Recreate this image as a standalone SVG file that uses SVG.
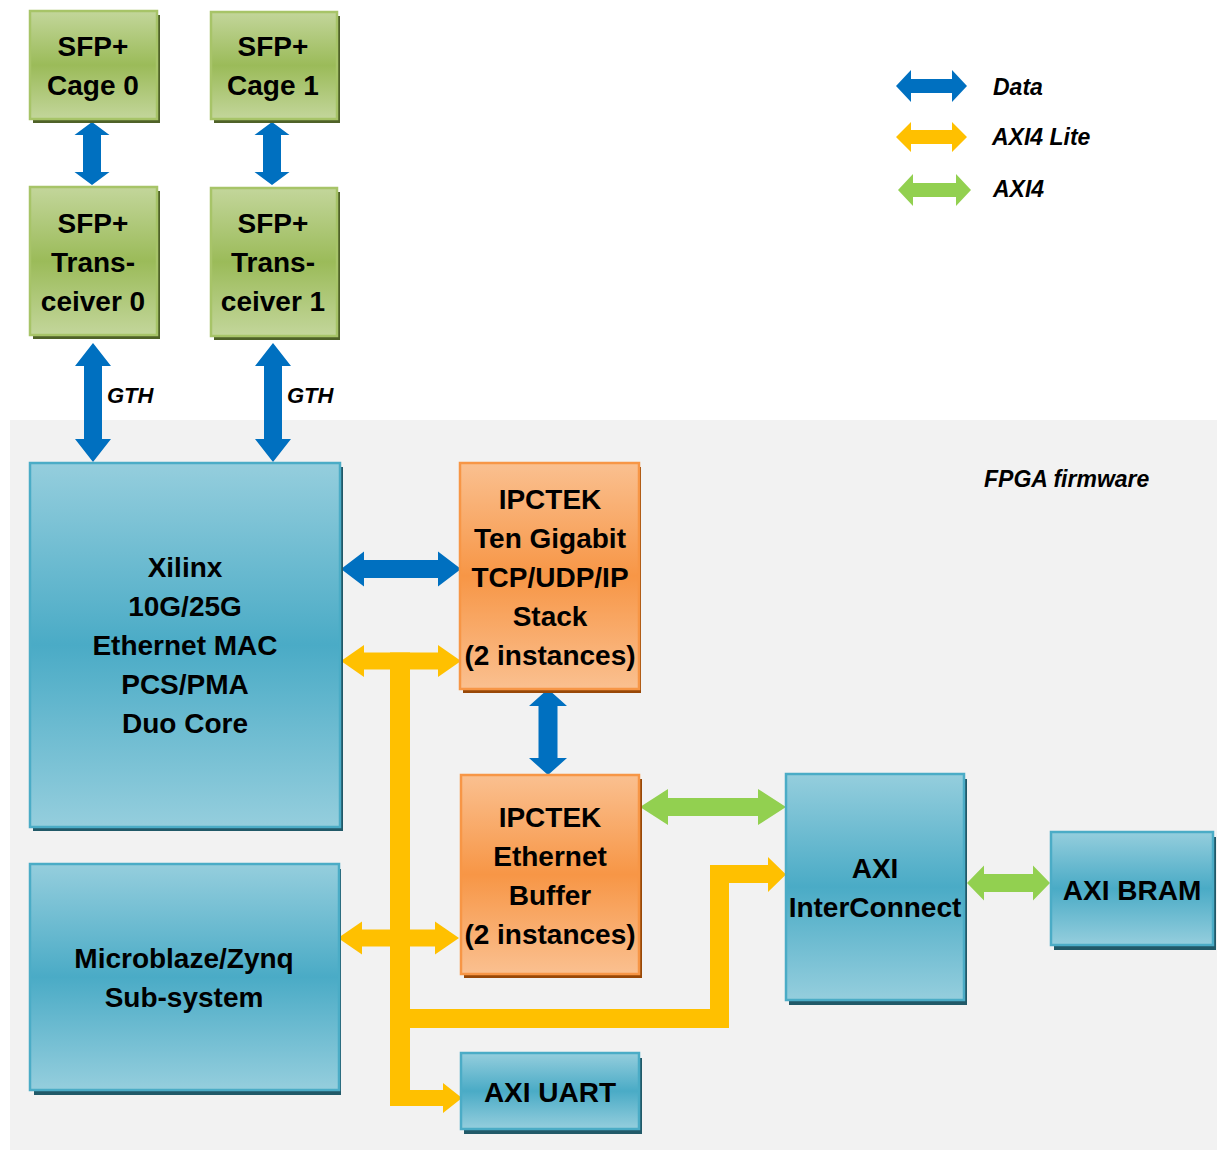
<svg xmlns="http://www.w3.org/2000/svg" width="1217" height="1151" viewBox="0 0 1217 1151">
<defs>
<linearGradient id="gBlue" x1="0" y1="0" x2="0" y2="1">
<stop offset="0" stop-color="#95cedd"/><stop offset="0.5" stop-color="#4aabc6"/><stop offset="1" stop-color="#95cedd"/>
</linearGradient>
<linearGradient id="gGreen" x1="0" y1="0" x2="0" y2="1">
<stop offset="0" stop-color="#c3d69b"/><stop offset="0.5" stop-color="#9bbb59"/><stop offset="1" stop-color="#c3d69b"/>
</linearGradient>
<linearGradient id="gOrange" x1="0" y1="0" x2="0" y2="1">
<stop offset="0" stop-color="#fac090"/><stop offset="0.5" stop-color="#f79646"/><stop offset="1" stop-color="#fac090"/>
</linearGradient>
</defs>
<style>
.blue rect.b{fill:url(#gBlue);stroke:#4bacc6;stroke-width:2.5}
.blue rect.s{fill:#215968}
.green rect.b{fill:url(#gGreen);stroke:#a7c468;stroke-width:2.5}
.green rect.s{fill:#4f6228}
.orange rect.b{fill:url(#gOrange);stroke:#f79646;stroke-width:2.5}
.orange rect.s{fill:#984807}
text{font-family:"Liberation Sans",Arial,sans-serif;font-weight:bold;fill:#000}
.t{font-size:28px;text-anchor:middle}
.i{font-size:22px;font-style:italic}
.l{font-size:23px;font-style:italic}
.data{fill:#0070c0}
.lite{fill:#ffc000}
.axi4{fill:#92d050}
</style>
<rect x="10" y="420" width="1207" height="730" fill="#f2f2f2"/>

<g id="connectors">
<path class="data" d="M92,122 L109.5,135 L101,135 L101,172 L109.5,172 L92,185 L74.5,172 L83,172 L83,135 L74.5,135 Z"/>
<path class="data" d="M272,122 L289.5,135 L281,135 L281,172 L289.5,172 L272,185 L254.5,172 L263,172 L263,135 L254.5,135 Z"/>
<path class="data" d="M93,343 L111,366 L102,366 L102,439 L111,439 L93,462 L75,439 L84,439 L84,366 L75,366 Z"/>
<path class="data" d="M273,343 L291,366 L282,366 L282,439 L291,439 L273,462 L255,439 L264,439 L264,366 L255,366 Z"/>
<path class="data" d="M341,569 L364,551.5 L364,560 L438,560 L438,551.5 L461,569 L438,586.5 L438,578 L364,578 L364,586.5 Z"/>
<path class="data" d="M548,689 L567,706 L557.5,706 L557.5,758 L567,758 L548,775 L529,758 L538.5,758 L538.5,706 L529,706 Z"/>
<path class="axi4" d="M640,807 L668,789 L668,798 L758,798 L758,789 L786,807 L758,825 L758,816 L668,816 L668,825 Z"/>
<path class="axi4" d="M967,883 L984,865.5 L984,874 L1033,874 L1033,865.5 L1050,883 L1033,900.5 L1033,892 L984,892 L984,900.5 Z"/>
<path class="lite" d="M341,661 L364,645 L364,652.5 L438,652.5 L438,645 L461,661 L438,677 L438,669.5 L364,669.5 L364,677 Z"/>
<rect class="lite" x="390" y="652.5" width="20" height="453.5"/>
<path class="lite" d="M338,938 L362,921.5 L362,929.5 L435,929.5 L435,921.5 L459,938 L435,954.5 L435,946.5 L362,946.5 L362,954.5 Z"/>
<path class="lite" d="M390,1090 L443,1090 L443,1083 L462,1098 L443,1113 L443,1106 L390,1106 Z"/>
<path class="lite" d="M400,1009 L710,1009 L710,865 L768,865 L768,857 L786,874.5 L768,892 L768,883 L729,883 L729,1028 L400,1028 Z"/>
</g>

<g id="cage0" class="green"><rect class="s" x="33" y="15" width="127" height="108"/><rect class="b" x="30" y="11" width="127" height="108"/>
<text class="t" x="93" y="56">SFP+</text><text class="t" x="93" y="95">Cage 0</text></g>
<g id="cage1" class="green"><rect class="s" x="214" y="16" width="126" height="107"/><rect class="b" x="211" y="12" width="126" height="107"/>
<text class="t" x="273" y="56">SFP+</text><text class="t" x="273" y="95">Cage 1</text></g>
<g id="trans0" class="green"><rect class="s" x="33" y="191" width="127" height="148"/><rect class="b" x="30" y="187" width="127" height="148"/>
<text class="t" x="93" y="233">SFP+</text><text class="t" x="93" y="272">Trans-</text><text class="t" x="93" y="311">ceiver 0</text></g>
<g id="trans1" class="green"><rect class="s" x="214" y="192" width="126" height="148"/><rect class="b" x="211" y="188" width="126" height="148"/>
<text class="t" x="273" y="233">SFP+</text><text class="t" x="273" y="272">Trans-</text><text class="t" x="273" y="311">ceiver 1</text></g>

<g id="mac" class="blue"><rect class="s" x="33" y="467" width="310" height="364"/><rect class="b" x="30" y="463" width="310" height="364"/>
<text class="t" x="185" y="577">Xilinx</text><text class="t" x="185" y="616">10G/25G</text><text class="t" x="185" y="655">Ethernet MAC</text><text class="t" x="185" y="694">PCS/PMA</text><text class="t" x="185" y="733">Duo Core</text></g>

<g id="stack" class="orange"><rect class="s" x="463" y="467" width="178" height="226"/><rect class="b" x="460" y="463" width="179" height="226"/>
<text class="t" x="550" y="509">IPCTEK</text><text class="t" x="550" y="548">Ten Gigabit</text><text class="t" x="550" y="587">TCP/UDP/IP</text><text class="t" x="550" y="626">Stack</text><text class="t" x="550" y="665">(2 instances)</text></g>

<g id="buffer" class="orange"><rect class="s" x="464" y="779" width="178" height="199"/><rect class="b" x="461" y="775" width="178" height="199"/>
<text class="t" x="550" y="827">IPCTEK</text><text class="t" x="550" y="866">Ethernet</text><text class="t" x="550" y="905">Buffer</text><text class="t" x="550" y="944">(2 instances)</text></g>

<g id="interconnect" class="blue"><rect class="s" x="789" y="779" width="178" height="226"/><rect class="b" x="786" y="774" width="178" height="226"/>
<text class="t" x="875" y="878">AXI</text><text class="t" x="875" y="917">InterConnect</text></g>

<g id="bram" class="blue"><rect class="s" x="1054" y="837" width="162" height="113"/><rect class="b" x="1051" y="832" width="162" height="113"/>
<text class="t" x="1132" y="900">AXI BRAM</text></g>

<g id="microblaze" class="blue"><rect class="s" x="34" y="869" width="307" height="226"/><rect class="b" x="30" y="864" width="309" height="226"/>
<text class="t" x="184" y="968">Microblaze/Zynq</text><text class="t" x="184" y="1007">Sub-system</text></g>

<g id="uart" class="blue"><rect class="s" x="464" y="1058" width="178" height="76"/><rect class="b" x="461" y="1053" width="178" height="76"/>
<text class="t" x="550" y="1102">AXI UART</text></g>

<g id="labels">
<text class="i" x="107" y="403">GTH</text>
<text class="i" x="287" y="403">GTH</text>
<text class="l" x="984" y="487">FPGA firmware</text>
</g>

<g id="legend">
<path class="data" d="M896,86 L911,70 L911,79 L952,79 L952,70 L967,86 L952,102 L952,93 L911,93 L911,102 Z"/>
<path class="lite" d="M896,137 L911,122 L911,130 L952,130 L952,122 L967,137 L952,152 L952,144 L911,144 L911,152 Z"/>
<path class="axi4" d="M898,190 L913,174 L913,183 L956,183 L956,174 L971,190 L956,206 L956,197 L913,197 L913,206 Z"/>
<text class="l" x="993" y="95">Data</text>
<text class="l" x="992" y="145">AXI4 Lite</text>
<text class="l" x="993" y="197">AXI4</text>
</g>
</svg>
